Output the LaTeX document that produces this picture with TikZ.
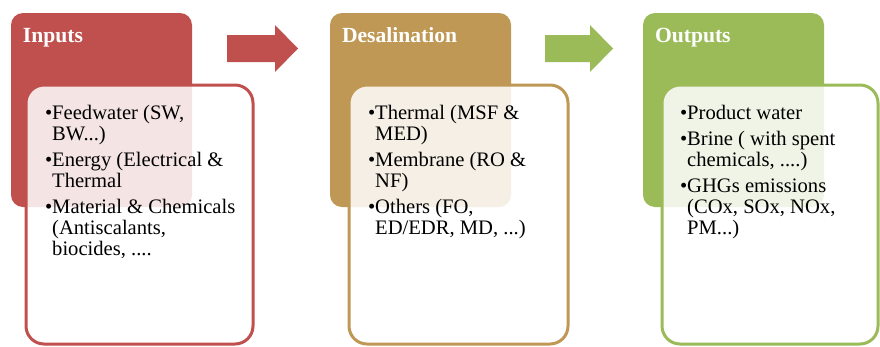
\documentclass[tikz,border=0pt]{standalone}
\usepackage{fontspec}
\setmainfont{Liberation Serif}
\usepackage{xcolor}
\usetikzlibrary{positioning,calc}
\definecolor{stagered}  {RGB}{192, 80, 77}
\definecolor{stagetan}  {RGB}{190,152, 84}
\definecolor{stagegreen}{RGB}{155,187, 89}
\newcommand{\contind}{\hphantom{\textbullet}}

\begin{document}
\begin{tikzpicture}[x=1pt, y=-1pt,
  every node/.style={inner sep=0pt, outer sep=0pt},
  hdrbox/.style={rounded corners=12pt, minimum width=181pt,
                 minimum height=194pt, anchor=north west},
  listbox/.style={draw, line width=3pt, fill=white, fill opacity=0.85,
                  text opacity=1, rounded corners=18pt,
                  minimum height=259pt, anchor=north west},
  hdrtext/.style={anchor=base west, text=white,
                  font=\fontsize{21.6}{24}\selectfont\bfseries},
  listtext/.style={anchor=north west, align=left,
                   font=\fontsize{20.6}{21}\selectfont}]

\useasboundingbox (0,0) rectangle (880,346);

% stage headers
\node[hdrbox, fill=stagered]   (inhdr)  at (11,13)  {};
\node[hdrbox, fill=stagetan]   (deshdr) at (330,13) {};
\node[hdrbox, fill=stagegreen] (outhdr) at (643,13) {};

\node[hdrtext] (intitle)  at ($(inhdr.north west)+(12,29)$)  {Inputs};
\node[hdrtext] (destitle) at ($(deshdr.north west)+(12,29)$) {Desalination};
\node[hdrtext] (outtitle) at ($(outhdr.north west)+(12,29)$) {Outputs};

% list boxes
\node[listbox, draw=stagered,   minimum width=227pt] (inlist)  at (26,85)  {};
\node[listbox, draw=stagetan,   minimum width=219pt] (deslist) at (349,85) {};
\node[listbox, draw=stagegreen, minimum width=216pt] (outlist) at (662,85) {};

\node[listtext] (initems) at ($(inlist.north west)+(19,20)$) {%
  \strut\textbullet Feedwater (SW,\\
  \contind BW...)\\[5pt]
  \textbullet Energy (Electrical \&\\
  \contind Thermal\\[5pt]
  \textbullet Material \& Chemicals\\
  \contind (Antiscalants,\\
  \contind biocides, ....};

\node[listtext] (desitems) at ($(deslist.north west)+(19,20)$) {%
  \strut\textbullet Thermal (MSF \&\\
  \contind MED)\\[5pt]
  \textbullet Membrane (RO \&\\
  \contind NF)\\[5pt]
  \textbullet Others (FO,\\
  \contind ED/EDR, MD, ...)};

\node[listtext] (outitems) at ($(outlist.north west)+(18,20)$) {%
  \strut\textbullet Product water\\[5pt]
  \textbullet Brine ( with spent\\
  \contind chemicals, ....)\\[5pt]
  \textbullet GHGs emissions\\
  \contind (COx, SOx, NOx,\\
  \contind PM...)};

% block arrows between the stages
\fill[stagered]   (227,35) -- (275,35) -- (275,25) -- (298,48.5)
  -- (275,72) -- (275,62) -- (227,62) -- cycle;
\fill[stagegreen] (545,35) -- (590,35) -- (590,25) -- (613,48.5)
  -- (590,72) -- (590,62) -- (545,62) -- cycle;

\end{tikzpicture}
\end{document}
